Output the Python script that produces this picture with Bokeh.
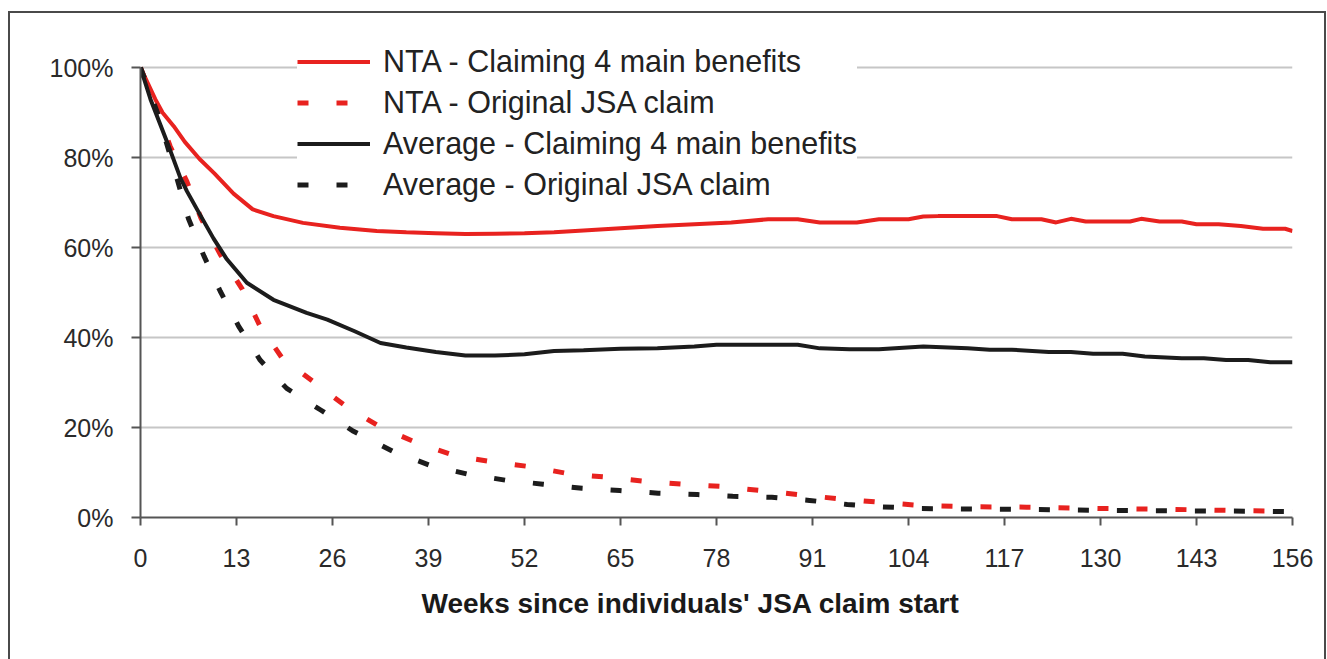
from bokeh.plotting import figure
from bokeh.models import (FixedTicker, PrintfTickFormatter, Legend, LegendItem,
                          Range1d, Title)
from bokeh.embed import file_html
from bokeh.resources import INLINE

# ---------------- data ----------------
x_ticks = [0, 13, 26, 39, 52, 65, 78, 91, 104, 117, 130, 143, 156]
y_ticks = [0, 20, 40, 60, 80, 100]

nta_claim4_weeks = [0, 1, 2, 3, 4.5, 6, 8, 10, 12.6, 15.2, 18, 22, 27, 32, 36, 40, 44, 48, 52, 56,
                    60, 65, 70, 75, 80, 85, 89, 92, 97, 100, 104, 106, 108, 112, 116, 118, 122,
                    124, 126, 128, 134, 135.5, 138, 141, 143, 146, 149, 152, 155, 156]
nta_claim4_pct = [100, 96.5, 93, 90, 87, 83.5, 79.7, 76.5, 72, 68.5, 67, 65.5, 64.4, 63.7, 63.4,
                  63.2, 63.0, 63.1, 63.2, 63.4, 63.8, 64.3, 64.8, 65.2, 65.6, 66.3, 66.3, 65.6,
                  65.6, 66.3, 66.3, 66.9, 67.0, 67.0, 67.0, 66.3, 66.3, 65.6, 66.4, 65.8, 65.8,
                  66.4, 65.8, 65.8, 65.2, 65.2, 64.8, 64.2, 64.2, 63.7]

nta_orig_weeks = [0, 2, 4, 6.3, 8.2, 10.8, 13.8, 16.2, 19.2, 23.4, 28, 32.7, 37.6, 42.9, 48, 53.2,
                  58.4, 63.6, 68.6, 73.5, 78.7, 83.9, 89, 94.3, 100, 105.5, 112, 120, 130, 140,
                  150, 156]
nta_orig_pct = [100, 91.5, 82.6, 74.6, 66.5, 58.5, 50.7, 42.5, 35.4, 30.2, 24.5, 19.9, 16.5, 13.6,
                12.3, 11.2, 9.6, 8.9, 8.0, 7.4, 6.9, 6.0, 5.1, 4.2, 3.4, 2.7, 2.4, 2.3, 2.0, 1.8,
                1.5, 1.4]

avg_claim4_weeks = [0, 1.35, 3.6, 5.4, 6.3, 8, 9.9, 11.7, 14.4, 18, 22.5, 25.3, 29, 32.5, 36, 40,
                    44, 48, 52, 56, 60, 65, 70, 75, 78, 84, 89, 92, 96, 100, 106, 112, 115, 118,
                    123, 126, 129, 133, 136, 141, 144, 147, 150, 153, 156]
avg_claim4_pct = [100, 93, 83.5, 75.5, 72.5, 67.5, 62, 57.4, 52.2, 48.4, 45.5, 44, 41.4, 38.8,
                  37.8, 36.8, 36.0, 36.0, 36.3, 37.0, 37.2, 37.5, 37.6, 38.0, 38.4, 38.4, 38.4,
                  37.6, 37.4, 37.4, 38.0, 37.6, 37.3, 37.3, 36.8, 36.8, 36.4, 36.4, 35.8, 35.4,
                  35.4, 35.0, 35.0, 34.5, 34.5]

avg_orig_weeks = [0, 2.4, 5, 6.5, 8.6, 10.8, 13.3, 16.2, 19.8, 24.4, 28.7, 34.2, 39.2, 44.4, 49.4,
                  54.5, 59.8, 64.9, 70.1, 75.4, 80.2, 85.5, 90.6, 95.7, 100, 105.5, 112, 120, 130,
                  140, 150, 156]
avg_orig_pct = [100, 89.5, 75, 66.4, 58.1, 50.3, 42.5, 35.0, 28.7, 23.9, 19.3, 14.7, 11.6, 9.6,
                8.3, 7.4, 6.5, 6.0, 5.4, 5.1, 4.7, 4.5, 3.8, 2.9, 2.4, 2.0, 1.9, 1.8, 1.6, 1.5,
                1.4, 1.3]

labels = ["NTA - Claiming 4 main benefits", "NTA - Original JSA claim",
          "Average - Claiming 4 main benefits", "Average - Original JSA claim"]

# ---------------- styling ----------------
FONT = "Liberation Sans"
RED = "#e8221f"
BLACK = "#1c1c1c"
AXIS = "#555555"
GRID = "#c6c6c6"
DASH = "11 28"

W, H = 1314, 646
# the frame extends above 100% so the legend (which overlaps the top) is not clipped
p = figure(width=W, height=H, output_backend="svg", toolbar_location=None,
           x_range=Range1d(0, 156), y_range=Range1d(0, 107.6),
           min_border_left=130, min_border_right=36, min_border_top=20,
           min_border_bottom=144, background_fill_color="white",
           border_fill_color="white", outline_line_color=None)
p.styles = {"margin-left": "8px", "margin-top": "11px", "box-sizing": "content-box",
            "border-left": "2px solid #4a4a4a", "border-top": "2px solid #4a4a4a",
            "border-right": "2px solid #4a4a4a"}

r1 = p.line(nta_claim4_weeks, nta_claim4_pct, line_color=RED, line_width=4)
r2 = p.line(nta_orig_weeks, nta_orig_pct, line_color=RED, line_width=5, line_dash=DASH)
r3 = p.line(avg_claim4_weeks, avg_claim4_pct, line_color=BLACK, line_width=4)
r4 = p.line(avg_orig_weeks, avg_orig_pct, line_color=BLACK, line_width=5, line_dash=DASH)

# axes
p.xaxis.ticker = FixedTicker(ticks=x_ticks)
p.yaxis.ticker = FixedTicker(ticks=y_ticks)
p.yaxis.formatter = PrintfTickFormatter(format="%d%%")
p.yaxis.bounds = (0, 100)
for ax in (p.xaxis[0], p.yaxis[0]):
    ax.axis_line_color = AXIS
    ax.axis_line_width = 2
    ax.major_tick_line_color = AXIS
    ax.major_tick_line_width = 2
    ax.major_tick_in = 0
    ax.minor_tick_line_color = None
    ax.major_label_text_font = FONT
    ax.major_label_text_font_size = "25px"
    ax.major_label_text_color = "#2a2a2a"
p.xaxis.major_tick_out = 8
p.yaxis.major_tick_out = 9
p.xaxis.major_label_standoff = 23
p.yaxis.major_label_standoff = 18

p.xgrid.grid_line_color = None
p.ygrid.grid_line_color = GRID
p.ygrid.grid_line_width = 2

p.add_layout(Title(text="Weeks since individuals' JSA claim start", align="left",
                   offset=281, text_font=FONT, text_font_size="28px",
                   text_font_style="bold", text_color="#1a1a1a", standoff=33), "below")

legend = Legend(items=[LegendItem(label=labels[0], renderers=[r1]),
                       LegendItem(label=labels[1], renderers=[r2]),
                       LegendItem(label=labels[2], renderers=[r3]),
                       LegendItem(label=labels[3], renderers=[r4])],
                location=(157, 312.5), orientation="vertical",
                label_text_font=FONT, label_text_font_size="30.5px",
                label_text_color="#222222", glyph_width=73, glyph_height=41,
                label_height=41, spacing=0, padding=0, margin=0, label_standoff=13,
                background_fill_color="white", background_fill_alpha=1.0,
                border_line_color=None)
p.add_layout(legend, "center")

open("out.html", "w").write(file_html(p, INLINE))
